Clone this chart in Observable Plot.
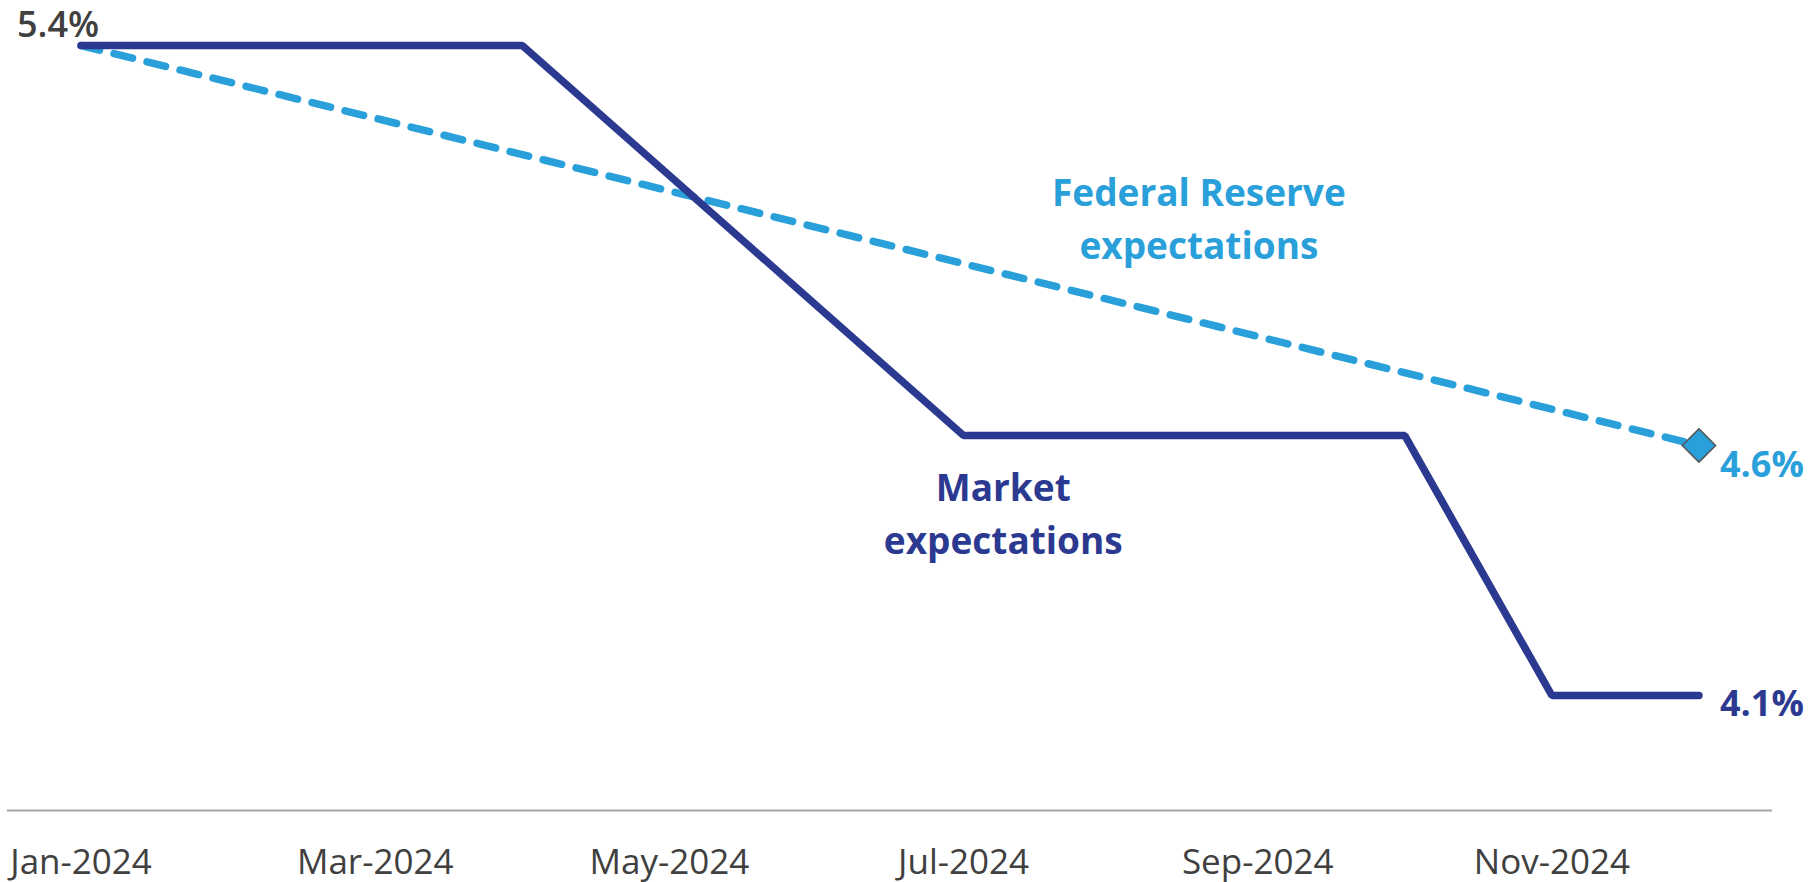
<!DOCTYPE html>
<html>
<head>
<meta charset="utf-8">
<script src="https://cdn.jsdelivr.net/npm/d3@7"></script>
<script src="https://cdn.jsdelivr.net/npm/@observablehq/plot@0.6"></script>
<style>
  html, body { margin: 0; padding: 0; background: #fff; }
</style>
</head>
<body>
<div id="chart"></div>
<script>
// Categories (monthly)
const months = ["Jan-2024","Feb-2024","Mar-2024","Apr-2024","May-2024","Jun-2024",
                "Jul-2024","Aug-2024","Sep-2024","Oct-2024","Nov-2024","Dec-2024"];
// Market expectations (%)
const marketValues = [5.4, 5.4, 5.4, 5.4, 5.14, 4.88, 4.62, 4.62, 4.62, 4.62, 4.1, 4.1];
// Federal Reserve expectations (%)
const fedMonths = ["Jan-2024", "Dec-2024"];
const fedValues = [5.4, 4.6];
// Tick labels shown
const tickLabels = ["Jan-2024","Mar-2024","May-2024","Jul-2024","Sep-2024","Nov-2024"];
// Axis baseline value
const yMin = 3.87;

const navy = "#2B3990";
const blue = "#29A0DA";

const market = months.map((m, i) => ({i, v: marketValues[i]}));
const fed = fedMonths.map((m, k) => ({i: months.indexOf(m), v: fedValues[k]}));
const lastMarket = market[market.length - 1];
const firstMarket = market[0];
const lastFed = fed[fed.length - 1];

const chart = Plot.plot({
  width: 1819,
  height: 882,
  marginLeft: 7,
  marginRight: 47,
  marginTop: 45,
  marginBottom: 72,
  style: {fontFamily: "'Open Sans', sans-serif", background: "#fff", color: "#404040", overflow: "visible"},
  x: {domain: [-0.5, 11.5], axis: null},
  y: {domain: [yMin, 5.4], axis: null},
  marks: [
    Plot.ruleY([yMin], {stroke: "#A6A6A6", strokeWidth: 2}),
    Plot.axisX({
      ticks: tickLabels.map(t => months.indexOf(t)),
      tickFormat: i => months[i],
      tickSize: 0,
      tickPadding: 39,
      fontSize: 35,
      fill: "#404040",
      label: null
    }),
    Plot.line(fed, {x: "i", y: "v", stroke: blue, strokeWidth: 7.5, strokeDasharray: "19,15", strokeLinecap: "round"}),
    Plot.line(market, {x: "i", y: "v", stroke: navy, strokeWidth: 7.5, strokeLinejoin: "miter", strokeLinecap: "round"}),
    Plot.dot([lastFed], {x: "i", y: "v", symbol: "diamond2", r: 15, fill: blue, stroke: "#555", strokeWidth: 1.5}),
    Plot.text([firstMarket], {x: "i", y: "v", text: d => d.v.toFixed(1) + "%", dx: -23, dy: -20, textAnchor: "middle",
      fontSize: 36, fontWeight: 600, fill: "#404040"}),
    Plot.text([lastFed], {x: "i", y: "v", text: d => d.v.toFixed(1) + "%", dx: 21, dy: 20, textAnchor: "start",
      fontSize: 36, fontWeight: 700, fill: blue}),
    Plot.text([lastMarket], {x: "i", y: "v", text: d => d.v.toFixed(1) + "%", dx: 21, dy: 9, textAnchor: "start",
      fontSize: 36, fontWeight: 700, fill: navy}),
    Plot.text([{i: 7.6, v: 5.06}], {x: "i", y: "v", text: () => "Federal Reserve\nexpectations",
      textAnchor: "middle", lineAnchor: "middle", lineHeight: 1.42, fontSize: 37, fontWeight: 700, fill: blue}),
    Plot.text([{i: 6.27, v: 4.47}], {x: "i", y: "v", text: () => "Market\nexpectations",
      textAnchor: "middle", lineAnchor: "middle", lineHeight: 1.42, fontSize: 37, fontWeight: 700, fill: navy})
  ]
});
document.getElementById("chart").appendChild(chart);
</script>
</body>
</html>
